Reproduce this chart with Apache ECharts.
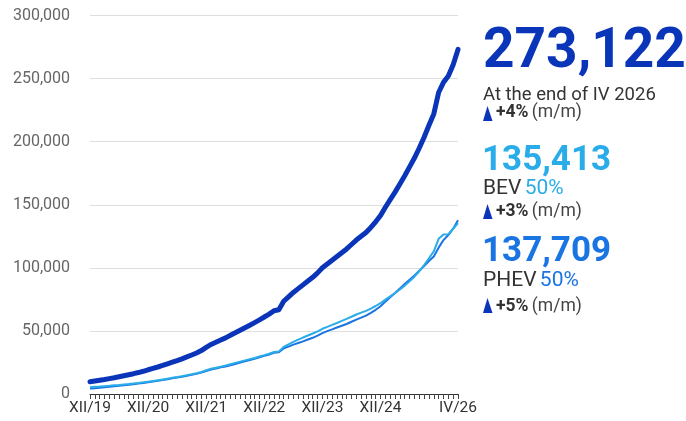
<!DOCTYPE html>
<html>
<head>
<meta charset="utf-8">
<script src="https://cdn.jsdelivr.net/npm/echarts@6/dist/echarts.min.js"></script>
<style>
html,body{margin:0;padding:0;background:#fff;}
#chart{width:686px;height:421px;}
</style>
</head>
<body>
<div id="chart"></div>
<script>
// Months XII/19 .. IV/26 (77 monthly points)
const romanMonths = ['I','II','III','IV','V','VI','VII','VIII','IX','X','XI','XII'];
const categories = [];
for (let y = 2019; y <= 2026; y++) {
  for (let m = 1; m <= 12; m++) {
    if (y === 2019 && m < 12) continue;
    if (y === 2026 && m > 4) continue;
    categories.push(romanMonths[m - 1] + '/' + String(y).slice(2));
  }
}
const shownLabels = ['XII/19','XII/20','XII/21','XII/22','XII/23','XII/24','IV/26'];
const yTicks = [0, 50000, 100000, 150000, 200000, 250000, 300000];

const totalValues = [
  9700,10300,10900,11500,12200,12900,13700,14500,15300,16100,17000,18000,
  19200,20300,21400,22600,23900,25200,26500,27900,29400,30900,32500,34400,
  37000,39300,41000,42800,44500,46500,48500,50500,52500,54500,56600,58800,
  61000,63300,66000,66800,73500,77000,80500,83500,86500,89500,92500,96000,
  100000,103000,106000,109000,112000,115000,118500,122000,125000,128000,132000,136500,
  141500,148000,154000,160000,166500,173000,180000,187000,195000,203500,213000,222000,
  239000,247000,252000,261000,273122
];
const bevValues = [
  5350,5650,5900,6200,6500,6850,7200,7600,7950,8350,8750,9250,
  9800,10350,10900,11500,12150,12800,13450,14150,14950,15700,16500,17450,
  18800,19950,20800,21700,22650,23650,24650,25650,26650,27650,28600,29700,
  30800,31950,33300,33700,37350,39400,41350,43050,44750,46350,47950,49700,
  51700,53200,54800,56300,57900,59500,61250,63000,64500,65900,67700,69750,
  71950,74800,77400,80000,82850,85900,89400,93000,97300,102150,107600,113000,
  123000,126400,126700,131000,135413
];
const phevValues = [
  4350,4650,5000,5300,5700,6050,6500,6900,7350,7750,8250,8750,
  9400,9950,10500,11100,11750,12400,13050,13750,14450,15200,16000,16950,
  18200,19350,20200,21100,21850,22850,23850,24850,25850,26850,28000,29100,
  30200,31350,32700,33100,36150,37600,39150,40450,41750,43150,44550,46300,
  48300,49800,51200,52700,54100,55500,57250,59000,60500,62100,64300,66750,
  69550,73200,76600,80000,83650,87100,90600,94000,97700,101350,105400,109000,
  116000,122000,126000,131000,137709
];

const COL_TOTAL = '#0b35b8';
const COL_BEV = '#2aace9';
const COL_PHEV = '#1a74e2';
const FONT = 'Roboto';

const chart = echarts.init(document.getElementById('chart'));

function tri(x, yTop) {
  return {
    type: 'polygon',
    shape: { points: [[x + 4.5, yTop], [x + 9.5, yTop + 15], [x, yTop + 15]] },
    style: { fill: COL_TOTAL }
  };
}
function changeText(x, y, pct) {
  return {
    type: 'text', left: x, top: y,
    style: {
      text: '{b|' + pct + '} {n|(m/m)}',
      rich: {
        b: { fontFamily: FONT, fontSize: 17.5, fontWeight: 'bold', fill: '#333' },
        n: { fontFamily: FONT, fontSize: 17.5, fill: '#444' }
      }
    }
  };
}

chart.setOption({
  animation: false,
  grid: { left: 90, right: 228, top: 15.5, bottom: 27, containLabel: false },
  xAxis: {
    type: 'category',
    data: categories,
    boundaryGap: false,
    axisLine: { lineStyle: { color: '#333', width: 1 } },
    axisTick: { show: true, interval: 0, length: 5, lineStyle: { color: '#444' } },
    axisLabel: {
      interval: function (i, v) { return shownLabels.indexOf(v) >= 0; },
      color: '#333', fontFamily: FONT, fontSize: 15.5, margin: 6
    },
    splitLine: { show: false }
  },
  yAxis: {
    type: 'value',
    min: yTicks[0], max: yTicks[yTicks.length - 1], interval: 50000,
    axisLine: { show: false }, axisTick: { show: false },
    axisLabel: {
      color: '#666', fontFamily: FONT, fontSize: 16, margin: 20,
      formatter: v => v.toLocaleString('en-US')
    },
    splitLine: { lineStyle: { color: '#dedede', width: 1 } }
  },
  series: [
    { name: 'PHEV', type: 'line', data: phevValues, showSymbol: false, smooth: false,
      lineStyle: { color: COL_PHEV, width: 2 } },
    { name: 'BEV', type: 'line', data: bevValues, showSymbol: false, smooth: false,
      lineStyle: { color: COL_BEV, width: 2 } },
    { name: 'Total', type: 'line', data: totalValues, showSymbol: false, smooth: false,
      lineStyle: { color: COL_TOTAL, width: 5, cap: 'round', join: 'round' } }
  ],
  graphic: [
    { type: 'text', left: 483, top: 26, style: { text: '273,122', fontFamily: FONT, fontSize: 55, fontWeight: 'bold', fill: COL_TOTAL } },
    { type: 'text', left: 483, top: 86, style: { text: 'At the end of IV 2026', fontFamily: FONT, fontSize: 18.5, fill: '#333' } },
    tri(483, 106), changeText(496, 104, '+4%'),
    { type: 'text', left: 482, top: 144, style: { text: '135,413', fontFamily: FONT, fontSize: 35, fontWeight: 'bold', fill: COL_BEV } },
    { type: 'text', left: 483, top: 178, style: {
      text: '{d|BEV} {c|50%}',
      rich: { d: { fontFamily: FONT, fontSize: 21, fill: '#333' }, c: { fontFamily: FONT, fontSize: 21, fill: COL_BEV } } } },
    tri(483, 204), changeText(496, 203, '+3%'),
    { type: 'text', left: 482, top: 235, style: { text: '137,709', fontFamily: FONT, fontSize: 35, fontWeight: 'bold', fill: COL_PHEV } },
    { type: 'text', left: 483, top: 270, style: {
      text: '{d|PHEV} {c|50%}',
      rich: { d: { fontFamily: FONT, fontSize: 21, fill: '#333' }, c: { fontFamily: FONT, fontSize: 21, fill: COL_PHEV } } } },
    tri(483, 298), changeText(496, 298, '+5%')
  ]
});
</script>
</body>
</html>
